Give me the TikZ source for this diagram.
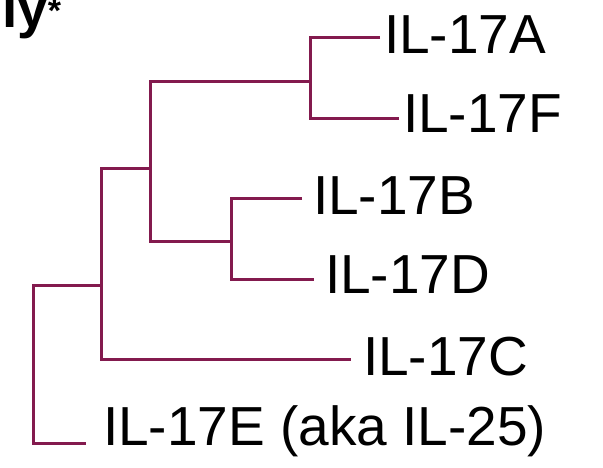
\documentclass[tikz,border=0pt]{standalone}
\usepackage{fontspec}
\setmainfont{Liberation Sans}
\definecolor{branch}{HTML}{831A4E}
\begin{document}
\begin{tikzpicture}[x=1pt,y=-1pt,
  edge/.style={draw=branch,line width=3pt,line join=miter},
  lbl/.style={anchor=base west,inner sep=0pt,outer sep=0pt,font=\fontsize{55}{60}\selectfont}]
\useasboundingbox (0,0) rectangle (603,467);
% leaf ends
\coordinate (eA) at (380,37);
\coordinate (eF) at (399,118);
\coordinate (eB) at (302,198);
\coordinate (eD) at (314,279);
\coordinate (eC) at (351,359);
\coordinate (eE) at (86,443);
% joints
\coordinate (jAF) at (310,81);
\coordinate (jBD) at (231,241);
\coordinate (jTop) at (150,168);
\coordinate (jC) at (101,285);
\coordinate (jRoot) at (33,285);
% branches
\path[edge] (eA) -| (jAF) |- (eF);
\path[edge] (eB) -| (jBD) |- (eD);
\path[edge] (jAF) -| (jTop) |- (jBD);
\path[edge] (jTop) -| (jC) |- (eC);
\path[edge] (jC) -- (jRoot) |- (eE);
% labels
\node[lbl] (lA) at (384,53) {IL-17A};
\node[lbl] (lF) at (403,132) {IL-17F};
\node[lbl] (lB) at (313,214) {IL-17B};
\node[lbl] (lD) at (325,293) {IL-17D};
\node[lbl] (lC) at (363,375) {IL-17C};
\node[lbl] (lE) at (103,445) {IL-17E (aka IL-25)};
% cut-off title remnant
\node[lbl,font=\fontsize{55}{60}\selectfont\bfseries] (title) at (2,27) {ly\raisebox{5pt}{\fontsize{34}{36}\selectfont *}};
\end{tikzpicture}
\end{document}
